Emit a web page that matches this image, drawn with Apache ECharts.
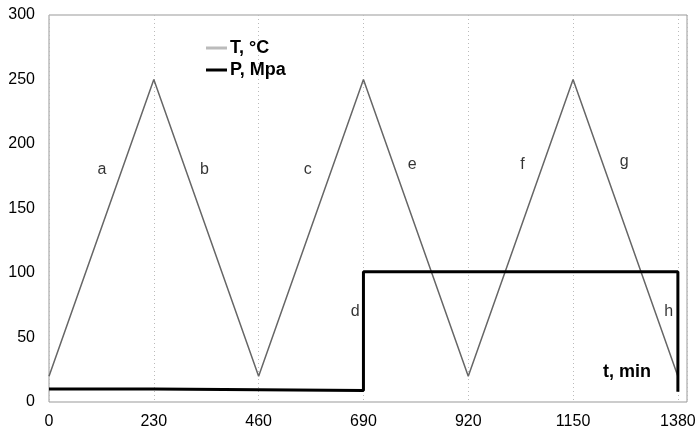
<!DOCTYPE html>
<html>
<head>
<meta charset="utf-8">
<script src="https://cdn.jsdelivr.net/npm/echarts@6/dist/echarts.min.js"></script>
<style>
  html, body { margin: 0; padding: 0; background: #fff; }
  #chart { width: 699px; height: 437px; }
</style>
</head>
<body>
<div id="chart"></div>
<script>
// temperature, degrees C, against time in min
var tTime = [0, 230, 460, 690, 920, 1150, 1380];
var tValues = [20, 250, 20, 250, 20, 250, 20];
// pressure, MPa
var pTime = [0, 230, 230, 690, 690, 1380, 1380];
var pValues = [10, 10, 9, 9, 101, 101, 8];
// segment letters
var segNames = ['a', 'b', 'c', 'd', 'e', 'f', 'g', 'h'];
var segX = [116, 341, 568, 672, 797, 1039, 1262, 1360];
var segY = [180, 180, 180, 70, 184, 184, 186, 70];

var font = 'Liberation Sans, Arial, sans-serif';

function pairs(xs, ys) {
    var out = [];
    for (var i = 0; i < xs.length; i++) {
        out.push([xs[i], ys[i]]);
    }
    return out;
}

var segData = [];
for (var i = 0; i < segNames.length; i++) {
    segData.push({ name: segNames[i], value: [segX[i], segY[i]] });
}

var myChart = echarts.init(document.getElementById('chart'));
var option = {
    animation: false,
    grid: {
        left: 49,
        right: 12,
        top: 15,
        bottom: 35,
        show: true,
        borderColor: '#999',
        borderWidth: 1
    },
    legend: {
        orient: 'vertical',
        left: 201,
        top: 34,
        itemGap: 4,
        itemWidth: 21,
        itemHeight: 3,
        data: [
            { name: 'T, °C', icon: 'rect', itemStyle: { color: '#bbb' } },
            { name: 'P, Mpa', icon: 'rect', itemStyle: { color: '#000' } }
        ],
        textStyle: { fontFamily: font, fontSize: 18, fontWeight: 'bold', color: '#000', padding: [0, 0, 0, -2] }
    },
    xAxis: {
        type: 'value',
        min: 0,
        max: 1400,
        interval: 230,
        axisLine: { show: false },
        axisTick: { show: false },
        axisLabel: {
            showMaxLabel: false,
            color: '#000',
            fontFamily: font,
            fontSize: 16,
            margin: 12,
            formatter: function (v) { return String(v); }
        },
        splitLine: {
            show: true,
            lineStyle: { color: '#bbb', type: [1, 3], width: 1 }
        }
    },
    yAxis: {
        type: 'value',
        min: 0,
        max: 300,
        interval: 50,
        axisLine: { show: false },
        axisTick: { show: false },
        axisLabel: {
            color: '#000',
            fontFamily: font,
            fontSize: 16,
            margin: 14
        },
        splitLine: { show: false }
    },
    graphic: [{
        type: 'text',
        left: 603,
        top: 363,
        style: {
            text: 't, min',
            font: 'bold 18px ' + font,
            fill: '#000'
        }
    }],
    series: [
        {
            name: 'T, °C',
            type: 'line',
            data: pairs(tTime, tValues),
            symbol: 'none',
            lineStyle: { color: '#666', width: 1.5 },
            z: 3
        },
        {
            name: 'P, Mpa',
            type: 'line',
            data: pairs(pTime, pValues),
            symbol: 'none',
            lineStyle: { color: '#000', width: 3 },
            z: 4
        },
        {
            name: 'labels',
            type: 'scatter',
            data: segData,
            symbolSize: 0,
            silent: true,
            label: {
                show: true,
                position: 'inside',
                formatter: '{b}',
                color: '#000',
                fontFamily: font,
                fontSize: 16
            }
        }
    ]
};
myChart.setOption(option);
</script>
</body>
</html>
